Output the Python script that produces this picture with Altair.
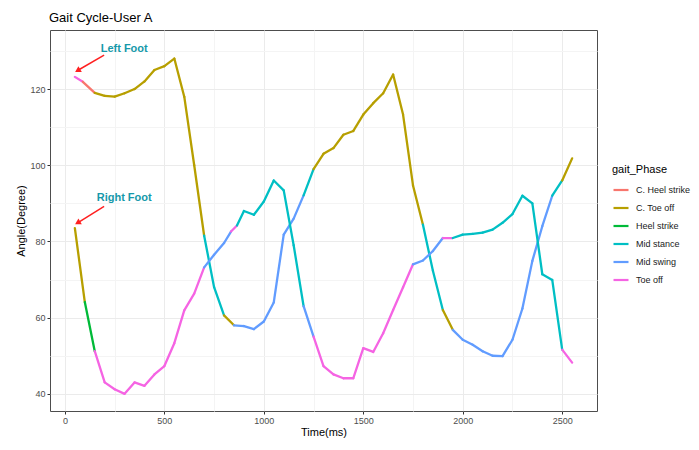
import altair as alt
import pandas as pd

# ---------------- data ----------------
chart_title = "Gait Cycle-User A"
phase_codes = {"CH": "C. Heel strike", "CT": "C. Toe off", "HS": "Heel strike",
               "MSt": "Mid stance", "MSw": "Mid swing", "TO": "Toe off"}
phase_names = ["C. Heel strike", "C. Toe off", "Heel strike", "Mid stance", "Mid swing", "Toe off"]
phase_colors = ["#F8766D", "#B79F00", "#00BA38", "#00BFC4", "#619CFF", "#F564E3"]

left_x = [50, 90, 150, 200, 250, 300, 350, 400, 450, 500, 550, 600, 650, 700, 750, 800, 850,
          900, 950, 1000, 1050, 1100, 1150, 1200, 1250, 1300, 1350, 1400, 1450, 1500, 1550,
          1600, 1650, 1700, 1750, 1800, 1850, 1900, 1950, 2000, 2050, 2100, 2150, 2200, 2250,
          2300, 2350, 2400, 2450, 2500, 2550]
left_y = [123.2, 121.9, 119.0, 118.2, 118.0, 118.9, 120.0, 122.0, 125.0, 126.0, 128.0, 118.0,
          100.0, 81.5, 68.0, 60.6, 58.0, 57.8, 57.0, 59.0, 64.0, 81.8, 86.0, 92.1, 99.0, 103.0,
          104.5, 108.0, 109.0, 113.3, 116.3, 118.9, 123.8, 113.3, 94.7, 84.4, 72.3, 62.0, 56.8,
          54.2, 52.9, 51.2, 50.0, 49.9, 54.2, 62.4, 74.9, 84.0, 92.0, 96.0, 101.8]
left_phase = ["TO", "CH"] + ["CT"] * 11 + ["MSt"] * 2 + ["CT"] + ["MSw"] * 7 + ["MSt"] + \
             ["CT"] * 11 + ["MSt"] * 2 + ["CT"] + ["MSw"] * 10 + ["MSt"] + ["CT"] * 2

right_x = [50, 100, 150, 200, 250, 300, 350, 400, 450, 500, 550, 600, 650, 700, 750, 800, 835,
           865, 900, 950, 1000, 1050, 1100, 1150, 1200, 1250, 1300, 1350, 1400, 1450, 1500,
           1550, 1600, 1650, 1700, 1750, 1800, 1850, 1900, 1950, 2000, 2050, 2100, 2150, 2200,
           2250, 2300, 2350, 2400, 2450, 2500, 2550]
right_y = [83.5, 64.1, 51.2, 43.0, 41.2, 40.0, 43.0, 42.1, 45.1, 47.3, 53.3, 61.9, 66.3, 73.2,
           76.5, 79.6, 82.6, 84.2, 88.0, 87.0, 90.5, 96.0, 93.4, 79.0, 63.0, 55.0, 47.3, 45.1,
           44.1, 44.1, 52.0, 51.0, 55.9, 62.0, 68.0, 74.0, 75.0, 77.5, 80.9, 80.9, 81.8, 82.0,
           82.3, 83.1, 84.9, 87.2, 92.0, 90.0, 71.4, 69.9, 51.6, 48.2]
right_phase = ["CT", "HS"] + ["TO"] * 11 + ["MSw"] * 3 + ["TO"] + ["MSt"] * 7 + ["MSw"] + \
              ["TO"] * 10 + ["MSw"] * 3 + ["TO"] + ["MSt"] * 11 + ["TO"] * 2

ann_label = ["Left Foot", "Right Foot"]
ann_x = [298, 298]
ann_y = [130.6, 91.4]
arrow_x0 = [197, 197]
arrow_y0 = [128.9, 89.2]
arrow_x1 = [68, 68]
arrow_y1 = [125.0, 85.0]

x_ticks = [0, 250, 500, 750, 1000, 1250, 1500, 1750, 2000, 2250, 2500]
y_ticks = [40, 50, 60, 70, 80, 90, 100, 110, 120, 130]

# ---------------- build tables ----------------
rows = []
for foot, xs, ys, ph in [("Left", left_x, left_y, left_phase), ("Right", right_x, right_y, right_phase)]:
    for i in range(len(xs) - 1):
        rows.append(dict(foot=foot, seg=i, x=xs[i], y=ys[i], x2=xs[i + 1], y2=ys[i + 1],
                         phase=phase_codes[ph[i]]))
seg_df = pd.DataFrame(rows)
ann_df = pd.DataFrame(dict(label=ann_label, x=ann_x, y=ann_y))
arr_df = pd.DataFrame(dict(x=arrow_x0, y=arrow_y0, x2=arrow_x1, y2=arrow_y1))
title_df = pd.DataFrame(dict(t=[chart_title]))

FONT = "Liberation Sans"
xscale = alt.Scale(domain=[-75, 2675], nice=False, zero=False)
yscale = alt.Scale(domain=[35.5, 135.5], nice=False, zero=False)

x_axis = alt.Axis(values=x_ticks, format="d",
                  labelExpr="datum.value % 500 === 0 ? datum.label : ''",
                  gridColor=alt.condition("datum.value % 500 === 0", alt.value("#EBEBEB"), alt.value("#F4F4F4")),
                  tickOpacity=alt.condition("datum.value % 500 === 0", alt.value(1), alt.value(0)),
                  titlePadding=1)
y_axis = alt.Axis(values=y_ticks, format="d",
                  labelExpr="datum.value % 20 === 0 ? datum.label : ''",
                  gridColor=alt.condition("datum.value % 20 === 0", alt.value("#EBEBEB"), alt.value("#F4F4F4")),
                  tickOpacity=alt.condition("datum.value % 20 === 0", alt.value(1), alt.value(0)),
                  titlePadding=3)

lines = alt.Chart(seg_df).mark_rule(strokeWidth=2.3, strokeCap="round").encode(
    x=alt.X("x:Q", scale=xscale, axis=x_axis, title="Time(ms)"),
    y=alt.Y("y:Q", scale=yscale, axis=y_axis, title="Angle(Degree)"),
    x2="x2:Q",
    y2="y2:Q",
    color=alt.Color("phase:N", scale=alt.Scale(domain=phase_names, range=phase_colors),
                    legend=alt.Legend(title="gait_Phase", orient="none", legendX=562, legendY=134,
                                      symbolType="stroke", symbolSize=225, symbolStrokeWidth=2.2,
                                      rowPadding=4, labelOffset=6, titlePadding=6,
                                      titleFontSize=11, titleFontWeight="normal", titleColor="black",
                                      labelFontSize=9, labelColor="#1a1a1a", titleFont=FONT,
                                      labelFont=FONT, padding=0)),
)

shafts = alt.Chart(arr_df).mark_rule(color="#FF2020", strokeWidth=1.5).encode(
    x="x:Q", y="y:Q", x2="x2:Q", y2="y2:Q")
heads = alt.Chart(arr_df).mark_point(shape="triangle", angle=239.5, size=45, filled=True,
                                     color="#FF2020", opacity=1).encode(x="x2:Q", y="y2:Q")
texts = alt.Chart(ann_df).mark_text(font=FONT, fontSize=11, fontWeight="bold",
                                    color="#1699AA").encode(x="x:Q", y="y:Q", text="label:N")
title_mark = alt.Chart(title_df).mark_text(font=FONT, fontSize=13, color="black", align="left",
                                           baseline="alphabetic").encode(
    x=alt.value(-1), y=alt.value(-8), text="t:N")

chart = alt.layer(lines, shafts, heads, texts, title_mark).properties(
    width=547, height=381,
    autosize=alt.AutoSizeParams(type="none"),
    padding={"left": 42, "top": 22, "right": 94, "bottom": 27},
).configure_view(stroke="#4d4d4d", strokeWidth=1).configure_axis(
    domain=False, tickColor="#333333", tickSize=3, labelColor="#4d4d4d", labelFontSize=9,
    labelFont=FONT, titleFont=FONT, titleFontSize=11, titleFontWeight="normal", titleColor="black",
    labelPadding=2, gridWidth=1)

chart.save("out.html", embed_options={"renderer": "svg", "actions": False})
